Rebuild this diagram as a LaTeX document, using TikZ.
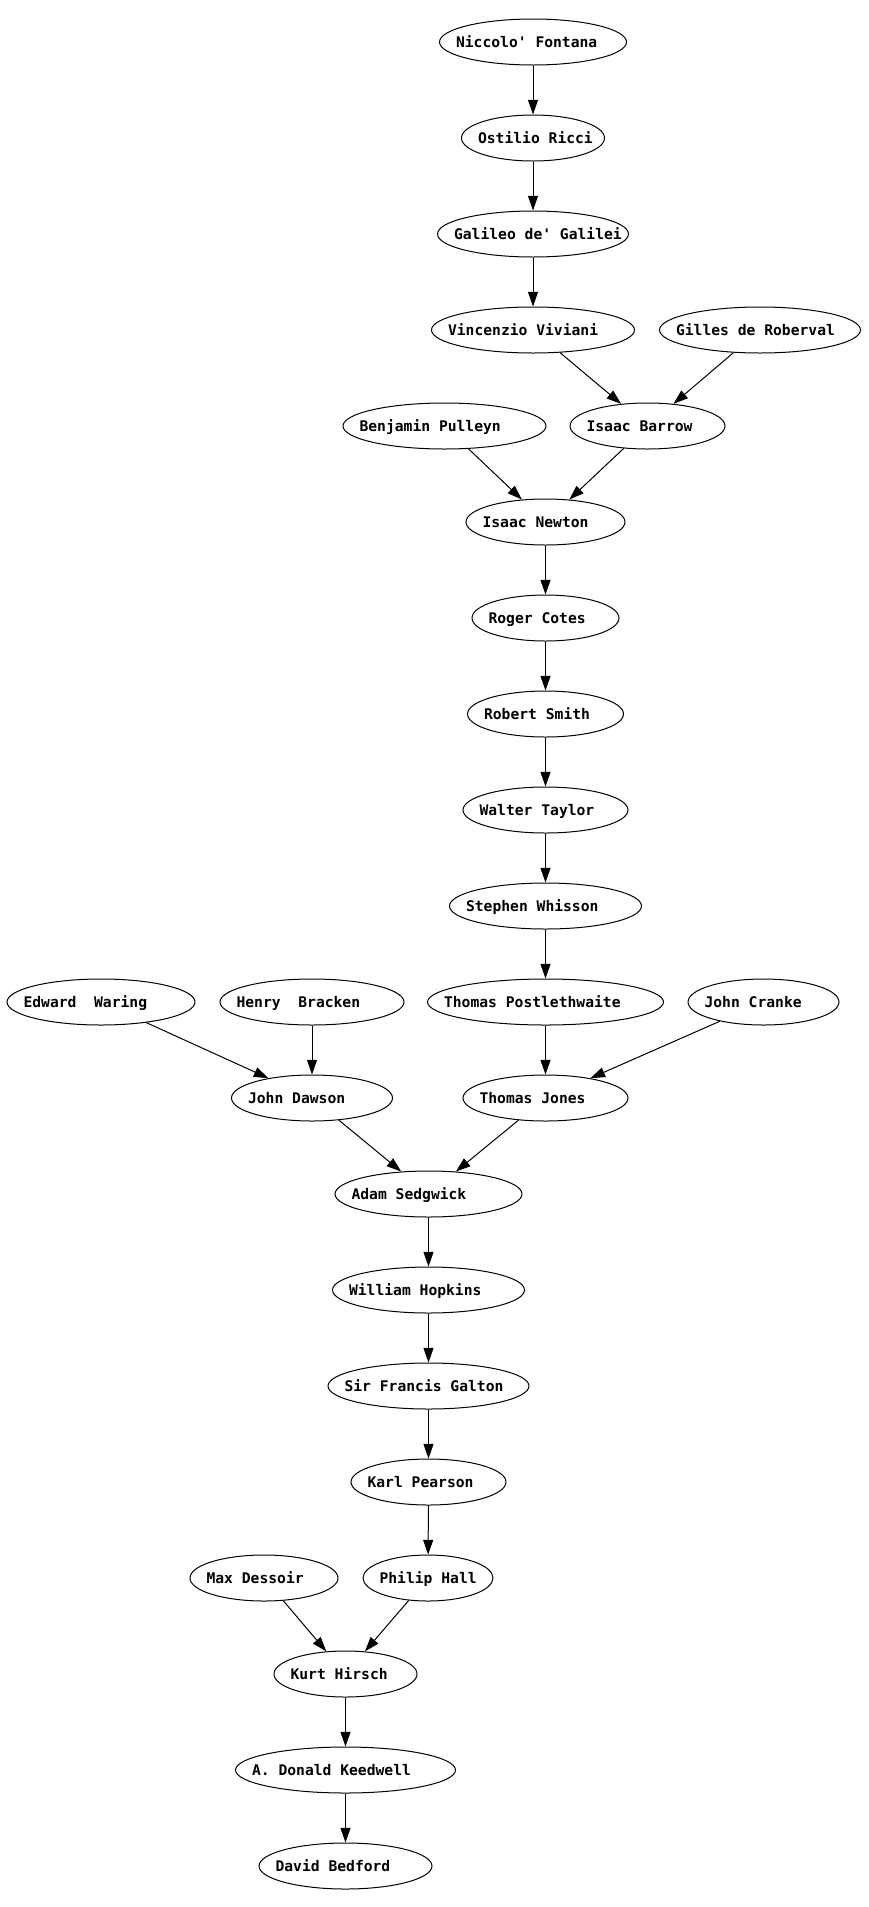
\documentclass[tikz,border=0pt]{standalone}
\usepackage{fontspec}
\setmonofont{DejaVu Sans Mono}
\usetikzlibrary{shapes.geometric,arrows.meta}
\begin{document}
\begin{tikzpicture}[
      x=0.75pt, y=-0.75pt,
      person/.style={
        ellipse, draw, line width=0.75pt, inner sep=0pt,
        minimum width=#1, minimum height=34.5pt,
        text height=8pt, text depth=0pt,
        font=\ttfamily\bfseries\fontsize{11}{13}\selectfont,
        execute at begin node={\hbox to 0pt\bgroup\hskip\dimexpr-#1/2+12.4pt\relax},
        execute at end node={\hss\egroup}
      },
      adv/.style={-{Triangle[length=11pt, width=7.5pt]}, line width=0.75pt}
    ]
    \useasboundingbox (0,0) rectangle (868,1907);

    % Top chain down to Newton.
    \node[person=140.25pt] (NF) at (533, 42)    {Niccolo' Fontana};
    \node[person=107.25pt] (OR) at (533, 138)   {Ostilio Ricci};
    \node[person=143.25pt] (GG) at (533, 234)   {Galileo de' Galilei};
    \node[person=152.25pt] (VV) at (533, 330)   {Vincenzio Viviani};
    \node[person=150.75pt] (GR) at (760, 330)   {Gilles de Roberval};
    \node[person=152.25pt] (BP) at (444.5, 426) {Benjamin Pulleyn};
    \node[person=116.25pt] (IB) at (647.5, 426) {Isaac Barrow};
    \node[person=119.25pt] (IN) at (545.5, 522) {Isaac Newton};

    % Middle chain.
    \node[person=110.25pt] (RC) at (545.5, 618) {Roger Cotes};
    \node[person=117pt]    (RS) at (545.5, 714) {Robert Smith};
    \node[person=123.75pt] (WT) at (545.5, 810) {Walter Taylor};
    \node[person=144pt]    (SW) at (545.5, 906) {Stephen Whisson};

    \node[person=141pt]    (EW) at (101, 1002)   {Edward\ \ Waring};
    \node[person=138pt]    (HB) at (312, 1002)   {Henry\ \ Bracken};
    \node[person=177pt]    (TP) at (545.5, 1002) {Thomas Postlethwaite};
    \node[person=113.25pt] (JC) at (763.5, 1002) {John Cranke};
    \node[person=120.75pt] (JD) at (312, 1098)   {John Dawson};
    \node[person=123.75pt] (TJ) at (545.5, 1098) {Thomas Jones};

    % Lower chain.
    \node[person=140.25pt] (AS) at (428.5, 1194) {Adam Sedgwick};
    \node[person=144pt]    (WH) at (428.5, 1290) {William Hopkins};
    \node[person=150.75pt] (FG) at (428.5, 1386) {Sir Francis Galton};
    \node[person=116.25pt] (KP) at (428.5, 1482) {Karl Pearson};
    \node[person=111pt]    (MD) at (264, 1578)   {Max Dessoir};
    \node[person=97.5pt]   (PH) at (428, 1578)   {Philip Hall};
    \node[person=107.25pt] (KH) at (345.5, 1674) {Kurt Hirsch};
    \node[person=165pt]    (DK) at (345.5, 1770) {A. Donald Keedwell};
    \node[person=129.75pt] (DB) at (345.5, 1866) {David Bedford};

    % Advisor edges.
    \draw[adv] (NF) -- (OR);
    \draw[adv] (OR) -- (GG);
    \draw[adv] (GG) -- (VV);
    \draw[adv] (VV) -- (IB);
    \draw[adv] (GR) -- (IB);
    \draw[adv] (BP) -- (IN);
    \draw[adv] (IB) -- (IN);
    \draw[adv] (IN) -- (RC);
    \draw[adv] (RC) -- (RS);
    \draw[adv] (RS) -- (WT);
    \draw[adv] (WT) -- (SW);
    \draw[adv] (SW) -- (TP);
    \draw[adv] (EW) -- (JD);
    \draw[adv] (HB) -- (JD);
    \draw[adv] (TP) -- (TJ);
    \draw[adv] (JC) -- (TJ);
    \draw[adv] (JD) -- (AS);
    \draw[adv] (TJ) -- (AS);
    \draw[adv] (AS) -- (WH);
    \draw[adv] (WH) -- (FG);
    \draw[adv] (FG) -- (KP);
    \draw[adv] (KP) -- (PH);
    \draw[adv] (MD) -- (KH);
    \draw[adv] (PH) -- (KH);
    \draw[adv] (KH) -- (DK);
    \draw[adv] (DK) -- (DB);
  \end{tikzpicture}
\end{document}
